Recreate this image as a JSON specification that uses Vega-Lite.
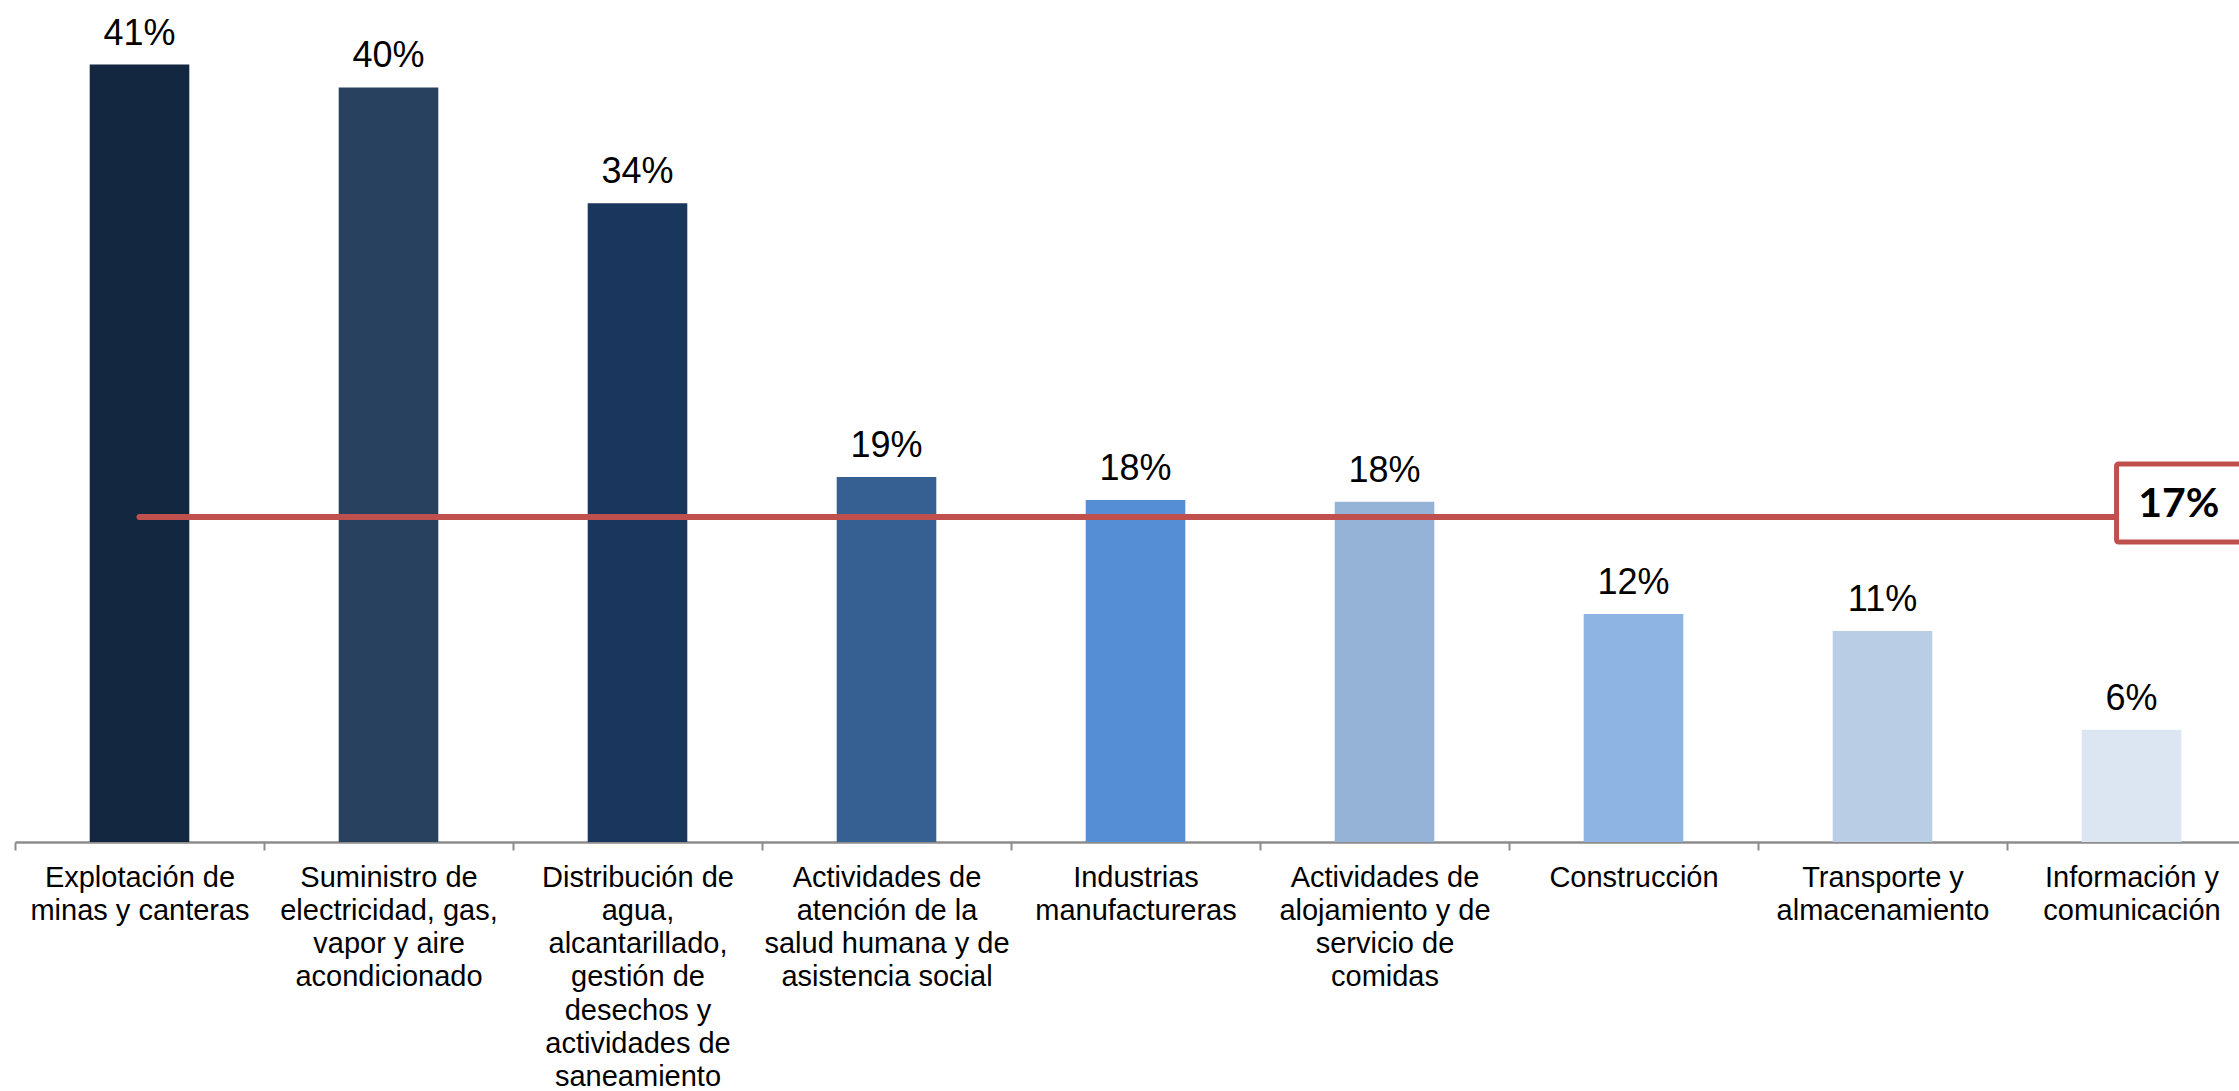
{
  "$schema": "https://vega.github.io/schema/vega-lite/v6.json",
  "width": 2224,
  "height": 842,
  "autosize": {"type": "none"},
  "padding": {"left": 15, "top": 0, "right": 0, "bottom": 249},
  "background": "white",
  "config": {"view": {"stroke": null}},
  "datasets": {
    "bars": [
      {"sector": "Explotación de\nminas y canteras", "value": 0.409},
      {"sector": "Suministro de\nelectricidad, gas,\nvapor y aire\nacondicionado", "value": 0.397},
      {"sector": "Distribución de\nagua,\nalcantarillado,\ngestión de\ndesechos y\nactividades de\nsaneamiento", "value": 0.336},
      {"sector": "Actividades de\natención de la\nsalud humana y de\nasistencia social", "value": 0.192},
      {"sector": "Industrias\nmanufactureras", "value": 0.180},
      {"sector": "Actividades de\nalojamiento y de\nservicio de\ncomidas", "value": 0.179},
      {"sector": "Construcción", "value": 0.120},
      {"sector": "Transporte y\nalmacenamiento", "value": 0.111},
      {"sector": "Información y\ncomunicación", "value": 0.059}
    ],
    "avg": [{"avg": 0.171}]
  },
  "layer": [
    {
      "data": {"name": "bars"},
      "mark": {"type": "bar", "width": {"band": 0.4}},
      "encoding": {
        "x": {
          "field": "sector", "type": "nominal", "sort": null,
          "scale": {
            "domain": [
              "Explotación de\nminas y canteras",
              "Suministro de\nelectricidad, gas,\nvapor y aire\nacondicionado",
              "Distribución de\nagua,\nalcantarillado,\ngestión de\ndesechos y\nactividades de\nsaneamiento",
              "Actividades de\natención de la\nsalud humana y de\nasistencia social",
              "Industrias\nmanufactureras",
              "Actividades de\nalojamiento y de\nservicio de\ncomidas",
              "Construcción",
              "Transporte y\nalmacenamiento",
              "Información y\ncomunicación"
            ],
            "range": [0, 2241], "paddingInner": 0, "paddingOuter": 0
          },
          "axis": {
            "title": null, "labelAngle": 0, "labelFont": "Liberation Sans", "labelFontSize": 29,
            "labelColor": "#000000", "labelLineHeight": 33.3, "labelBaseline": "top",
            "labelExpr": "split(datum.label, '\\n')", "labelLimit": 0, "labelOverlap": false, "labelBound": false,
            "labelPadding": 13, "domainColor": "#8c8c8c", "domainWidth": 2.5, "tickColor": "#8c8c8c",
            "tickWidth": 2, "tickSize": 8, "tickBand": "extent", "grid": false
          }
        },
        "y": {"field": "value", "type": "quantitative", "scale": {"domain": [0, 0.443], "nice": false}, "axis": null},
        "color": {
          "field": "sector", "type": "nominal", "legend": null,
          "scale": {
            "domain": [
              "Explotación de\nminas y canteras",
              "Suministro de\nelectricidad, gas,\nvapor y aire\nacondicionado",
              "Distribución de\nagua,\nalcantarillado,\ngestión de\ndesechos y\nactividades de\nsaneamiento",
              "Actividades de\natención de la\nsalud humana y de\nasistencia social",
              "Industrias\nmanufactureras",
              "Actividades de\nalojamiento y de\nservicio de\ncomidas",
              "Construcción",
              "Transporte y\nalmacenamiento",
              "Información y\ncomunicación"
            ],
            "range": ["#132740", "#27415F", "#1A365C", "#366092", "#558ED5", "#95B3D7", "#8EB4E3", "#B9CDE5", "#DCE6F2"]
          }
        }
      }
    },
    {
      "data": {"name": "bars"},
      "mark": {"type": "text", "font": "Liberation Sans", "fontSize": 36, "baseline": "alphabetic", "dy": -20, "color": "#000000"},
      "encoding": {
        "x": {"field": "sector", "type": "nominal", "sort": null},
        "y": {"field": "value", "type": "quantitative"},
        "text": {"field": "value", "type": "quantitative", "format": ".0%"}
      }
    },
    {
      "data": {"name": "avg"},
      "mark": {"type": "rule", "color": "#C0504D", "strokeWidth": 6, "strokeCap": "round"},
      "encoding": {
        "x": {"datum": "Explotación de\nminas y canteras", "type": "nominal", "bandPosition": 0.5},
        "x2": {"datum": "Información y\ncomunicación", "bandPosition": 0.44},
        "y": {"field": "avg", "type": "quantitative"}
      }
    },
    {
      "data": {"name": "avg"},
      "mark": {"type": "rect", "fill": "#ffffff", "stroke": "#C0504D", "strokeWidth": 5, "cornerRadius": 2},
      "encoding": {
        "x": {"datum": "Información y\ncomunicación", "type": "nominal", "bandPosition": 0.44},
        "x2": {"datum": "Información y\ncomunicación", "bandPosition": 1.0},
        "y": {"datum": 0.1989, "type": "quantitative"},
        "y2": {"datum": 0.1578}
      }
    },
    {
      "data": {"name": "avg"},
      "mark": {"type": "text", "font": "Lato", "fontWeight": "bold", "fontSize": 41, "baseline": "middle", "align": "center", "dy": -12, "color": "#000000"},
      "encoding": {
        "x": {"datum": "Información y\ncomunicación", "type": "nominal", "bandPosition": 0.69},
        "y": {"field": "avg", "type": "quantitative"},
        "text": {"field": "avg", "type": "quantitative", "format": ".0%"}
      }
    }
  ]
}
